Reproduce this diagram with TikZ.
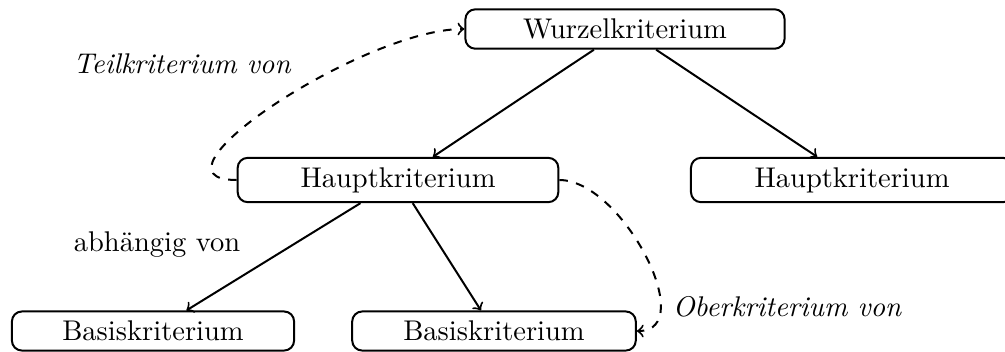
\documentclass[tikz,border=0pt]{standalone}
\begin{document}
\begin{tikzpicture}[x=0.35088pt,y=-0.35088pt,
  box/.style={draw, rounded corners=3.5pt, line width=0.7pt},
  conn/.style={->, line width=0.7pt},
  dconn/.style={->, dashed, line width=0.7pt},
  lbl/.style={font=\itshape}]
\useasboundingbox (0,0) rectangle (1005,351);
\node[box, minimum width=112pt] (W) at (625,29) {Wurzelkriterium};
\node[box, minimum width=112.5pt] (H1) at (398,180) {Hauptkriterium};
\node[box, minimum width=113pt] (H2) at (852,180) {Hauptkriterium};
\node[box, minimum width=99pt] (B1) at (153,331) {Basiskriterium};
\node[box, minimum width=99.5pt] (B2) at (494,331) {Basiskriterium};
\draw[conn] (W) -- (H1);
\draw[conn] (W) -- (H2);
\draw[conn] (H1) -- (B1);
\draw[conn] (H1) -- (B2);
\draw[dconn] (H1.west) to[out=180,in=180,looseness=0.95] (W.west);
\draw[dconn] (H1.east) to[out=0,in=0,looseness=0.95] (B2.east);
\node[lbl] (t1) at (182,64) {Teilkriterium von};
\node (t2) at (157,245) {abhängig von};
\node[lbl] (t3) at (787,307) {Oberkriterium von};
\end{tikzpicture}
\end{document}
